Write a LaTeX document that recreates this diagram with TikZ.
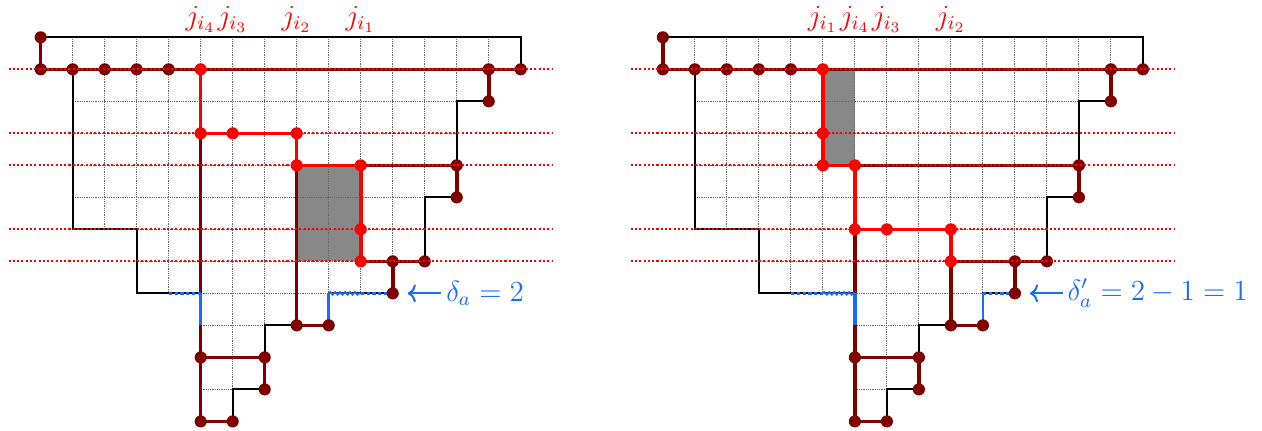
\documentclass[tikz,border=0pt]{standalone}
\usetikzlibrary{decorations.pathmorphing,arrows.meta}
\definecolor{dred}{RGB}{128,0,0}
\definecolor{myblue}{RGB}{20,110,255}
\definecolor{grayfill}{RGB}{136,136,136}
\tikzset{
  gridline/.style={black!60, line width=0.4pt, dash pattern=on 0.4pt off 0.4pt},
  outline/.style={black, line width=0.9pt},
  dpath/.style={dred, line width=1.6pt},
  rpath/.style={red, line width=1.6pt},
  rdots/.style={red, line width=0.95pt, dash pattern=on 0.9pt off 1pt},
  bdash/.style={myblue, line width=1.1pt, dash pattern=on 1.4pt off 1.2pt},
  bsolid/.style={myblue, line width=1.6pt},
  bthin/.style={myblue, line width=1.2pt},
  bwave/.style={myblue, line width=0.8pt, decorate, decoration={snake, amplitude=0.6pt, segment length=2.2pt}},
  barrow/.style={myblue, line width=0.9pt, -{Computer Modern Rightarrow[length=3.6pt, width=8pt]}},
  lab/.style={text=red, font=\large, scale=1.08, inner sep=0pt},
  blab/.style={text=myblue, font=\large, scale=1.08, inner sep=0pt, anchor=west}
}
\begin{document}
\begin{tikzpicture}[x=0.5cm, y=-0.5cm]
\useasboundingbox (-1.27,-1.166) rectangle (38.16,12.27);

% ================= LEFT PANEL =================
\begin{scope}
  \fill[grayfill] (8,4) rectangle (10,7);
  \begin{scope}
    \clip (0,0) -| (15,1) -| (14,2) -| (13,5) -| (12,7) -| (11,8) -| (9,9) -| (7,11) -| (6,12) -| (5,8) -| (3,6) -| (1,1) -| (0,0) -- cycle;
    \foreach \i in {1,...,14} \draw[gridline] (\i,0) -- (\i,12);
    \foreach \j in {1,...,11} \draw[gridline] (0,\j) -- (15,\j);
  \end{scope}
  \draw[outline] (0,0) -| (15,1) -| (14,2) -| (13,5) -| (12,7) -| (11,8) -| (9,9) -| (7,11) -| (6,12) -| (5,8) -| (3,6) -| (1,1) -| (0,0) -- cycle;
  % dark red paths
  \draw[dpath] (0,0) -- (0,1) -- (15,1);
  \draw[dpath] (14,1) -- (14,2);
  \draw[dpath] (5,3) -- (5,12) -- (6,12);
  \draw[dpath] (5,10) -- (7,10) -- (7,11);
  \draw[dpath] (8,4) -- (8,9) -- (9,9);
  \draw[dpath] (10,4) -- (13,4) -- (13,5);
  \draw[dpath] (10,7) -- (12,7);
  \draw[dpath] (11,7) -- (11,8);
  % red path
  \draw[rpath] (5,1) -- (5,3) -- (8,3) -- (8,4) -- (10,4) -- (10,7);
  % blue
  \draw[bdash] (4,8) -- (5,8);
  \draw[bsolid] (5,8) -- (5,9);
  \draw[bthin] (9,9) -- (9,8);
  \draw[bwave] (9,8) -- (10,8);
  \draw[bdash] (10,8) -- (11,8);
  % dots
  \foreach \x/\y in {0/0,0/1,1/1,2/1,3/1,4/1,14/1,15/1,14/2,13/4,13/5,11/7,12/7,11/8,8/9,9/9,5/10,7/10,7/11,5/12,6/12}
    \fill[dred] (\x,\y) circle[radius=2.7pt];
  \foreach \x/\y in {5/1,5/3,6/3,8/3,8/4,10/4,10/6,10/7}
    \fill[red] (\x,\y) circle[radius=2.7pt];
  % red dotted lines
  \foreach \y in {1,3,4,6,7} \draw[rdots] (-1,\y) -- (16,\y);
  % labels
  \node[lab] (La4) at (5,-0.56) {$j_{i_4}$};
  \node[lab] (La3) at (6,-0.56) {$j_{i_3}$};
  \node[lab] (La2) at (8,-0.56) {$j_{i_2}$};
  \node[lab] (La1) at (10,-0.56) {$j_{i_1}$};
  \node[blab] (Ld) at (12.66,8) {$\delta_a=2$};
  \coordinate (Lt) at (11.47,8);
  \coordinate (Ls) at (12.5,8);
  \draw[barrow] (Ls) -- (Lt);
\end{scope}

% ================= RIGHT PANEL =================
\begin{scope}[shift={(19.44,0)}]
  \fill[grayfill] (5,1) rectangle (6,4);
  \begin{scope}
    \clip (0,0) -| (15,1) -| (14,2) -| (13,5) -| (12,7) -| (11,8) -| (10,9) -| (8,11) -| (7,12) -| (6,8) -| (3,6) -| (1,1) -| (0,0) -- cycle;
    \foreach \i in {1,...,14} \draw[gridline] (\i,0) -- (\i,12);
    \foreach \j in {1,...,11} \draw[gridline] (0,\j) -- (15,\j);
  \end{scope}
  \draw[outline] (0,0) -| (15,1) -| (14,2) -| (13,5) -| (12,7) -| (11,8) -| (10,9) -| (8,11) -| (7,12) -| (6,8) -| (3,6) -| (1,1) -| (0,0) -- cycle;
  % dark red paths
  \draw[dpath] (0,0) -- (0,1) -- (15,1);
  \draw[dpath] (14,1) -- (14,2);
  \draw[dpath] (6,4) -- (13,4) -- (13,5);
  \draw[dpath] (6,6) -- (6,12) -- (7,12);
  \draw[dpath] (6,10) -- (8,10) -- (8,11);
  \draw[dpath] (9,7) -- (9,9) -- (10,9);
  \draw[dpath] (9,7) -- (12,7);
  \draw[dpath] (11,7) -- (11,8);
  % red path
  \draw[rpath] (5,1) -- (5,4) -- (6,4) -- (6,6) -- (9,6) -- (9,7);
  % blue
  \draw[bdash] (4,8) -- (5,8);
  \draw[bwave] (5,8) -- (6,8);
  \draw[bsolid] (6,8) -- (6,9);
  \draw[bthin] (10,9) -- (10,8);
  \draw[bdash] (10,8) -- (11,8);
  % dots
  \foreach \x/\y in {0/0,0/1,1/1,2/1,3/1,4/1,14/1,15/1,14/2,13/4,13/5,11/7,12/7,11/8,9/9,10/9,6/10,8/10,8/11,6/12,7/12}
    \fill[dred] (\x,\y) circle[radius=2.7pt];
  \foreach \x/\y in {5/1,5/3,5/4,6/4,6/6,7/6,9/6,9/7}
    \fill[red] (\x,\y) circle[radius=2.7pt];
  % red dotted lines
  \foreach \y in {1,3,4,6,7} \draw[rdots] (-1,\y) -- (16,\y);
  % labels
  \node[lab] (Rb1) at (5,-0.56) {$j_{i_1}$};
  \node[lab] (Rb4) at (6,-0.56) {$j_{i_4}$};
  \node[lab] (Rb3) at (7,-0.56) {$j_{i_3}$};
  \node[lab] (Rb2) at (9,-0.56) {$j_{i_2}$};
  \node[blab] (Rd) at (12.63,8) {$\delta'_a=2-1=1$};
  \coordinate (Rt) at (11.47,8);
  \coordinate (Rs) at (12.5,8);
  \draw[barrow] (Rs) -- (Rt);
\end{scope}
\end{tikzpicture}
\end{document}
